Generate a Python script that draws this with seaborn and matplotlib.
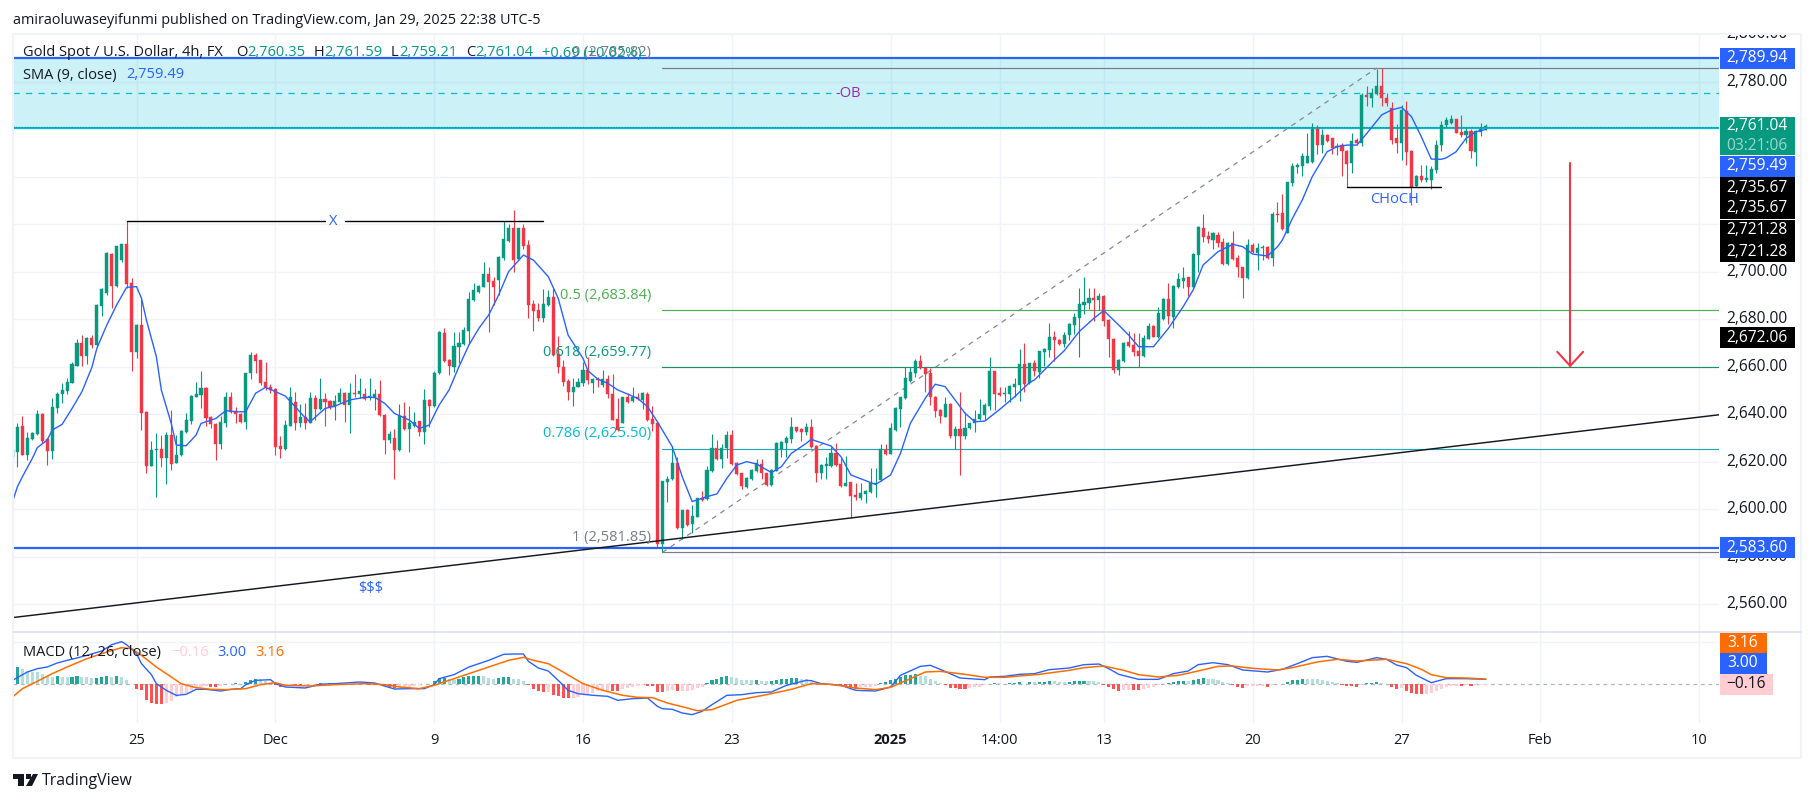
# gold 4h chart with SMA and MACD panes
import pandas as pd
import seaborn as sns
import matplotlib
matplotlib.use('Agg')
import matplotlib.pyplot as plt
from matplotlib.patches import Polygon, Rectangle

# candles (one entry per 4h bar)
opens = [
    2621.7,2623.8,2634.6,2622.4,2629,2631.2,2639.7,2629,2624.1,2642.3,
    2647.9,2649.5,2652.9,2660,2669.4,2664.1,2671.5,2668.7,2685.3,2690.5,
    2707,2693.6,2704.5,2711.3,2694.7,2665.9,2677.1,2640.6,2617.8,2624.5,
    2624.9,2621.3,2630.8,2619.2,2622.4,2632.2,2636.9,2647,2647.7,2650.7,
    2638.5,2635.4,2627.2,2636,2647,2641,2639.5,2636.4,2656.8,2664.5,
    2662.4,2653,2651.2,2650.1,2626.3,2624.9,2634.7,2644.8,2635.7,2638.3,
    2636,2646.3,2641.6,2646,2645.1,2642.5,2644.6,2648.6,2643.5,2648.4,
    2648.1,2648.1,2647,2646.3,2647.9,2639.2,2628.7,2629.4,2624.5,2638.8,
    2633.3,2634.7,2636.7,2632.2,2645.6,2643,2656.8,2673.6,2662.4,2659.6,
    2668,2669.1,2674.8,2687.7,2691.2,2693.3,2698.6,2695.7,2696.1,2705.2,
    2712.7,2717.9,2704.8,2717.9,2710.8,2686,2683.5,2680,2685.6,2689.1,
    2664.9,2659.3,2653.6,2649.1,2651.2,2652.9,2658.2,2652.9,2654.4,2651.9,
    2654.3,2648,2637.4,2636,2647,2645.3,2646.7,2645.6,2648.1,2637.6,
    2635.7,2584.8,2611,2612.2,2619.2,2591.5,2599.3,2593.4,2596.4,2604.2,
    2603.9,2615.8,2625.5,2620.7,2625.2,2630.8,2618.9,2614.7,2609,2612.2,
    2615.8,2618.6,2614.7,2609.8,2615.8,2624.8,2627.3,2629.3,2634.1,2633.3,
    2632,2634.1,2626.2,2614.7,2617.8,2617.9,2623.4,2618.5,2609.4,2611,
    2605.6,2604.2,2606,2607,2610.2,2611.9,2624.5,2622.8,2632.9,2641.6,
    2646.3,2653.5,2657.1,2662,2658.9,2656.8,2647,2641.4,2638.5,2643.9,
    2630.4,2633.2,2630.4,2633.6,2635.7,2637.4,2639.2,2643,2657.8,2648.6,
    2648.1,2648.1,2651.2,2651.9,2660.7,2652.6,2661,2657.5,2665.9,2666.6,
    2672.1,2670.8,2669.2,2672.8,2677.1,2680.1,2685.7,2686.3,2688.4,2687.7,
    2689.3,2679.2,2671.4,2658.2,2662.1,2670,2668.7,2666.3,2664.1,2671.2,
    2676.7,2672,2679.5,2688,2680.7,2693,2695.7,2697.2,2693,2706.6,
    2717.8,2714.6,2713,2715,2712.2,2702.8,2711.5,2705.2,2701.7,2696.8,
    2710.8,2707.6,2709.4,2709.8,2705.5,2723.9,2724.2,2715.7,2737.1,2743.5,
    2744.2,2745.5,2745.9,2759.5,2752.9,2757.1,2755.7,2752,2752.9,2750.5,
    2745.2,2755,2753.6,2774,2772.9,2774.4,2777.8,2772.6,2768.4,2755.7,
    2753.6,2767.4,2750.4,2735.7,2739.9,2738.2,2738.2,2742.4,2752.9,2761.4,
    2762,2763.7,2758.5,2757.1,2759,2750.1,2758.6,2760.35]
highs = [
    2625.2,2635.7,2638.8,2632.2,2632.2,2641.3,2640.2,2629.4,2646.3,2649.1,
    2652.6,2654.7,2661.7,2671.1,2672.9,2672.2,2672.9,2686,2692.6,2708,
    2707.3,2710.5,2711.4,2721,2696.8,2677.6,2688,2640.9,2628.3,2631.5,
    2630.8,2632.2,2641.3,2630.8,2632.9,2639.9,2647.7,2653.3,2657.8,2650.9,
    2638.8,2635.7,2638.8,2648.8,2648.8,2642.7,2639.9,2657.1,2665.9,2665.5,
    2662.4,2661.6,2652.2,2650.5,2630.4,2637.1,2650.9,2649.1,2643.9,2644.4,
    2649.1,2647.7,2654.7,2648.4,2645.5,2647.7,2650.5,2648.9,2652.6,2656.5,
    2654.7,2650.5,2654.7,2650.1,2654,2639.5,2632.6,2633.2,2643.7,2644.9,
    2643,2640.6,2636.7,2650.2,2645.8,2657.9,2674.6,2675.7,2662.7,2674.3,
    2674.3,2676.4,2691.2,2695,2694,2703.8,2701.7,2697.5,2706.2,2721,
    2719.7,2725.6,2717.9,2719.7,2712.9,2687.7,2686.6,2692.2,2691.9,2692.6,
    2672.5,2662.4,2654.3,2654.7,2654.7,2661.7,2663.5,2655,2655.4,2658.2,
    2656.1,2656.5,2646.3,2647,2648.6,2650.9,2648.6,2649.1,2648.8,2643,
    2636,2611.5,2613.6,2626.2,2621.4,2599.3,2599.5,2601.4,2604.4,2607.4,
    2617.8,2631.1,2628.7,2627,2632.6,2632.9,2619.3,2614.7,2613,2616.4,
    2620.6,2620.6,2615,2616.4,2627.9,2628.4,2630.4,2638.3,2634.3,2633.6,
    2636,2637.4,2626.5,2618.5,2621.7,2625.6,2627.6,2621.7,2622,2611,
    2610.5,2610.8,2607.7,2616.8,2616.8,2626.9,2626.9,2635.7,2642.5,2647,
    2659.6,2659.6,2662.7,2664.5,2659.2,2658.9,2647.2,2641.6,2646.7,2644.2,
    2634.6,2649.1,2640.6,2636,2641.4,2645.9,2644.2,2663.5,2657.9,2651.2,
    2650.9,2651.9,2654.7,2667,2669.4,2661.3,2662.4,2666.3,2667.3,2678.1,
    2674.8,2671.1,2674,2677.8,2682.3,2692.6,2697.2,2692.6,2692.6,2690.5,
    2689.8,2679.5,2671.7,2662.7,2670,2674.8,2673.6,2673.6,2673,2677.8,
    2677.1,2684.9,2688.4,2695,2694,2698.9,2701.4,2697.5,2707.6,2718.8,
    2723.7,2716.7,2716.4,2716.4,2713.6,2712.2,2716.9,2706.6,2701.7,2713.2,
    2711.5,2711.5,2710.8,2710.4,2724.9,2729.1,2732.3,2737.5,2745.2,2745.5,
    2749.7,2758.1,2762.3,2761.4,2759.5,2757.6,2756,2753.6,2753.6,2750.8,
    2758.1,2755.7,2774.7,2777.8,2776.8,2784.8,2785.2,2774.7,2771.2,2761.6,
    2769.8,2771.5,2750.8,2740.3,2744.5,2744.5,2744.1,2755,2763.2,2764.6,
    2765.6,2763.7,2765.6,2760,2759.5,2759.2,2762,2761.59]
lows = [
    2621,2617.5,2622.4,2620.3,2628.7,2630.8,2627.6,2618.2,2620.7,2640.2,
    2644.1,2647.9,2652.6,2659.9,2659.9,2660.7,2667.3,2668,2680.9,2689.8,
    2684.2,2693.3,2703.8,2692.6,2657.9,2663.1,2632.9,2615,2617.8,2604.8,
    2617.5,2610.2,2616.1,2619.2,2622.1,2631.8,2635.4,2646.7,2642.3,2634.6,
    2633.6,2620.3,2624.9,2634.3,2639.9,2635.7,2636,2633.3,2654.3,2656.8,
    2651.9,2649.8,2648.4,2622.4,2621.3,2624.5,2634.6,2632.9,2634.3,2633.3,
    2635.7,2637.1,2641.3,2634.6,2641.6,2637.1,2644.1,2636.1,2631.8,2647,
    2646.3,2645.6,2645.6,2641.3,2639,2622.8,2627.6,2612.3,2624.2,2632.9,
    2623.7,2634.3,2630.4,2627,2634.3,2642.7,2656.5,2661.4,2656.1,2657.5,
    2661,2668.7,2669.1,2687.4,2690.5,2693,2674.3,2685.6,2689.8,2704.5,
    2712.2,2699.6,2704.8,2709,2680,2674.8,2679,2678.6,2685.1,2664,
    2657,2651.5,2645.6,2643,2650.9,2651.5,2652.3,2648.4,2651.2,2650.9,
    2646.3,2637.1,2632.7,2635.7,2644.4,2644.9,2645.6,2641.6,2636.9,2632.7,
    2583.8,2581.7,2602.8,2611.9,2591.1,2586.9,2592.5,2589.7,2596.1,2603.2,
    2603.5,2615.4,2620.3,2617.1,2621,2618.2,2614,2608,2608.4,2611.9,
    2615.4,2612.2,2609.4,2609.4,2615.8,2621.4,2621.4,2627.6,2632.2,2628.4,
    2630.8,2625.2,2611.2,2612.2,2612.2,2617.5,2617.8,2609.1,2609.4,2595.7,
    2603.5,2603.5,2602.3,2606.5,2604.6,2611.6,2622.4,2622.8,2632.7,2634.3,
    2645.9,2653.3,2655.1,2658.5,2649.1,2643.5,2638.3,2636,2638.3,2629.4,
    2624.8,2614,2629,2633.2,2632.2,2637.1,2637.1,2641.4,2641.4,2647.4,
    2644.9,2644.9,2647,2645.3,2649.1,2652.3,2655.7,2654.7,2659.9,2663.8,
    2662.1,2668.6,2668,2670.8,2673.4,2663.5,2681.8,2683.7,2679,2683.5,
    2676.7,2663.5,2657.1,2656.1,2661.7,2668,2664.1,2659.3,2663.8,2671.1,
    2672,2671.7,2679.2,2677.6,2675.7,2692.6,2692.6,2689.3,2692.6,2699.6,
    2712.2,2711.8,2709,2710.1,2702.4,2702.4,2704.5,2697.5,2688.7,2696.5,
    2707.3,2700.3,2704.5,2704.8,2702.1,2720.6,2717.1,2715.7,2735.7,2741,
    2739.9,2745.5,2745.5,2749.1,2749.7,2754.3,2749.1,2748.7,2740,2735.1,
    2741.3,2752.9,2752.5,2769.4,2769.1,2774,2769.4,2769.4,2753.4,2749.7,
    2746.6,2744.5,2727.7,2735.4,2737.5,2737.5,2734.3,2741,2750.5,2760.6,
    2761.8,2757.8,2756.4,2753.6,2747.3,2744.1,2756.7,2759.21]
closes = [
    2624.5,2634.3,2622.4,2629.4,2631.5,2639.5,2628.3,2624.1,2642.5,2647.9,
    2649.8,2653,2660.7,2669.4,2664.1,2671.7,2668.7,2685.6,2692.3,2707.3,
    2693.6,2710.4,2711.2,2694.4,2665.9,2677.1,2640.2,2617.8,2624.5,2624.9,
    2621.3,2630.8,2618.6,2622.4,2632.6,2637.1,2647.2,2648.1,2650.7,2638.1,
    2635.3,2627.2,2636.3,2647,2640.4,2639.5,2636.4,2656.8,2664.5,2662.1,
    2652.6,2651.2,2649.8,2625.9,2624.9,2635,2647,2635.7,2638.3,2635.7,
    2646.3,2641.6,2646,2644.9,2642.5,2645.1,2648.4,2643.5,2648.4,2648,
    2649.3,2645.8,2647.3,2647.9,2639.2,2628.7,2631.2,2624.5,2639,2633.3,
    2635.7,2636.4,2632.2,2645.6,2643,2656.9,2674,2662,2659.9,2668.3,
    2669.4,2675,2688.1,2691.9,2693.7,2698.6,2695.4,2693.3,2705.9,2713.2,
    2717.9,2704.5,2717.9,2710.4,2685.6,2683,2680,2686,2689.1,2664.5,
    2659.3,2653.3,2649.1,2651.2,2653.1,2658.2,2654,2654.4,2654,2654.3,
    2648,2637.1,2633,2646.7,2644.9,2647,2645.8,2648.4,2637.1,2635.5,
    2584.8,2611.5,2612.2,2618.9,2591.5,2599.3,2592.9,2596.7,2604.2,2603.5,
    2616.1,2625.5,2620.6,2625.2,2630.8,2618.6,2614.4,2609.3,2612.6,2616.1,
    2618.9,2614.7,2609.8,2616.1,2627.6,2628,2629.7,2634.1,2632.5,2632,
    2634.3,2625.6,2614.7,2618.2,2618.5,2623.4,2618.2,2609.4,2610.8,2605.1,
    2604.9,2606.5,2607.3,2610.5,2610.8,2624.8,2622.8,2633.6,2642.1,2646.7,
    2654.7,2657.5,2662,2658.9,2656.5,2647,2641.1,2638.8,2643.9,2630.4,
    2633.2,2630.4,2633.6,2635.7,2637.4,2639.5,2643.5,2657.8,2648.1,2647.7,
    2648.6,2651.5,2652.3,2660.7,2652.3,2661,2657.9,2666.2,2667,2672.1,
    2670.8,2669.2,2673.1,2677.6,2680.4,2686,2687,2688.6,2687.7,2689.5,
    2679,2671.1,2658.2,2662.4,2669.7,2668.3,2665.8,2664.1,2671.5,2676.7,
    2672.2,2682.3,2688,2681,2693.7,2696.4,2696.8,2693,2707,2718.3,
    2714.3,2713.4,2716,2711.5,2702.8,2711.5,2704.8,2701.4,2696.8,2710.8,
    2708,2709.7,2709.8,2705.5,2723.9,2723.5,2717.6,2737.2,2744.1,2744.5,
    2748.3,2748.3,2759.5,2752.9,2757.1,2754.8,2751.5,2752.5,2750.5,2745,
    2754.8,2753.6,2774,2773.3,2774.7,2777.8,2772.6,2770.5,2755,2753.6,
    2767.7,2750.1,2735.4,2739.9,2738.2,2739.2,2742.7,2752.9,2761.4,2763.5,
    2763.7,2758.1,2757.1,2759,2750.5,2759,2759.5,2761.04]

# SMA read at a subset of bars
sma_bars = [0,1,2,4,5,7,8,10,12,14,16,17,19,21,23,25,26,27,29,30,32,33,35,37,38,41,43,45,47,49,51,53,55,57,59,
            60,63,65,68,71,73,75,77,80,82,84,86,88,90,92,94,96,98,100,103,105,108,110,112,115,116,118,120,122,
            126,128,130,132,133,135,137,140,142,144,146,148,150,153,155,157,160,161,165,167,169,174,177,179,181,
            184,186,188,190,192,194,196,199,202,205,206,210,212,215,218,220,223,225,227,230,233,236,238,240,243,
            246,248,250,253,255,256,258,260,262,265,267,269,271,273,276,278,280,282,284,286,288,289,291,293,295,297]
sma_vals = [2602.7,2609.1,2613.3,2621,2625.5,2628.7,2632.9,2635.3,2642,2649.1,2659.3,2667.3,2677.1,2685.6,2693,2693.3,
            2688.4,2679.2,2663.8,2649.8,2635.7,2626.6,2626.3,2630.8,2635.7,2637.8,2641.1,2640.6,2640.6,2648.4,2650.9,
            2649.1,2647.2,2642.7,2638.1,2636.4,2642,2643,2645.6,2646.7,2646.7,2644.2,2639.9,2637.1,2633.6,2635,2643.4,
            2649.8,2659.6,2668.7,2675.7,2681.4,2689.8,2699.6,2706.6,2704.5,2697.5,2688.4,2672.9,2663.1,2657.9,2654.3,
            2652.6,2649.8,2646.3,2642.8,2636.4,2629.4,2625.9,2613.3,2602.8,2604.9,2606,2612.6,2618.2,2619.6,2618.6,
            2615,2617.5,2623.1,2627.3,2629,2626.2,2621.7,2614,2610,2614,2623.1,2635.8,2646.3,2652.2,2651.2,2645.6,2640,
            2636.4,2636.7,2641.6,2646.9,2652.9,2654,2662.4,2666.3,2674.3,2680,2683.2,2677.1,2672.9,2668,2668,2675.7,
            2684.9,2691.9,2702.4,2708,2711.1,2710.1,2707,2706.2,2710.1,2713,2722,2729.8,2739.6,2750.1,2752.2,2752.9,
            2752.9,2757.8,2765.6,2767.7,2768.8,2764.9,2756.4,2747,2746.9,2747.5,2750.1,2755.7,2758.5,2759.49]

# MACD pane
hist_vals = [
    10,10.4,9,8,7.4,7.2,6,4.8,4.4,5,4.6,4.4,4.5,5,4.4,4.2,3.8,3.9,4.4,5,
    4.6,4.7,4.5,2.6,-0.1,-2.6,-3.6,-9.6,-11,-11.6,-11.7,-11,-10,-7.6,-6.6,-5.2,-3.6,-2.2,-1.6,-1.2,
    -1.6,-1.8,-1.2,0.2,0.25,0.6,0.2,1.4,2.8,3.2,3,1.8,1,-0.6,-1.6,-1.2,-0.2,-0.25,-1,-0.6,
    0.2,0.25,0.8,0.6,0.65,0.6,0.4,0.45,0.4,0.42,0.4,0.2,-0.2,-0.25,-0.6,-1.2,-1.6,-2,-1.6,-1.5,
    -1.4,-1.3,-0.6,0.2,0.4,1.8,3.8,3.9,3.4,2.8,3.4,4.6,5,5.1,5.2,5,3.8,3.4,4,4.4,
    4.5,3.2,3.1,1.8,-0.6,-3,-4.2,-4.6,-4.5,-6.2,-7,-8,-8.2,-8.1,-7.6,-6,-5.6,-5,-4.2,-4.15,
    -4,-4.1,-4.2,-2.6,-2.2,-1.6,-1,-0.2,-1,-1.1,-4.6,-4.7,-4,-3.6,-4,-3.9,-3.8,-3.6,-2.2,-1.6,
    0.8,2.6,3,4.4,5,4.4,3.8,2.6,2.5,2.4,2.6,1.8,1.7,2,2.6,3.2,3.25,3.8,3.85,3,
    2.9,1.4,0.4,0.35,0.2,0.1,-0.1,-0.6,-1,-1.6,-2.6,-1.8,-1.6,-1.5,-1.2,0.8,1.4,2.6,3.4,4.4,
    5.4,5.8,6.2,4.8,4.7,3.2,1.8,0.8,-0.2,-2,-2.2,-2.6,-2.7,-2.2,-1.8,-1.6,-0.6,0.4,0.6,0.5,
    0.4,0.5,0.6,1.4,0.4,1.4,1.3,1.4,1.5,2,1.9,1.5,1.4,1.6,1.9,2,2.1,2,1.9,1.4,
    -0.2,-1.6,-2.6,-4,-3.6,-3.5,-3.6,-3.7,-2.6,-2,-1.9,-0.2,0.4,0.5,1.4,2,2.1,2,2.8,3.2,
    3.8,3.2,3.1,2.6,1.2,0.6,-0.2,-1.6,-2,-1,-0.95,-0.9,-0.85,-1.6,-0.6,-0.1,0.1,1.4,2.6,2.7,
    3.2,3.1,3,2.9,2.6,2,1.4,0.8,-0.2,-1.2,-1.3,-1.4,-0.2,0.8,0.9,1.4,0.6,0.4,-1.6,-2.6,
    -2,-4,-5,-5.6,-5.7,-5.6,-5.2,-4,-2.6,-1.4,-1,-0.9,-1,-0.6,-1,-0.6,-0.4,-0.16]
macd_bars = [0,3,5,7,9,11,13,15,18,20,22,23,25,26,28,29,31,33,35,37,39,42,44,46,47,49,52,53,55,59,62,65,70,73,75,77,80,83,85,86,
             89,92,96,99,101,103,104,106,108,110,112,114,117,120,122,125,128,130,131,133,135,137,139,141,144,147,150,153,156,160,
             161,163,167,170,174,177,179,183,185,187,191,196,197,200,203,206,209,213,216,219,221,223,227,231,234,237,239,242,245,248,
             253,256,259,262,265,269,271,275,277,279,281,283,286,289,293,297]
macd_vals = [2.4,7.4,9.4,10.4,12.8,14.4,15.8,17.4,20,23.8,25.6,23.8,18.4,12.4,5.8,0.4,-3.6,-6.6,-6,-3,-3,-4,-3,-2.6,-0.2,2.4,2.8,0.4,-1.6,-2.2,
             0,0.4,1.4,0.8,-1,-2.8,-2.6,-2.6,-0.2,3.4,5.8,10.4,14.4,18,18.2,18.2,13.8,9.8,8,2.4,-3.6,-5.6,-6.6,-7.2,-9.6,-8.6,-8.2,-13.2,-14.6,-15,
             -17.2,-18.2,-16.2,-12.2,-6.6,-6.2,-5,-4.6,-0.6,2.4,2.2,0.4,-0.6,-3.6,-4,-1.6,5.4,10.8,11.4,9,3.8,2.8,4.4,4.8,6,6.4,8.8,9.8,11.8,12.2,
             9.4,6,3,3,6.4,8,11.8,13,11.8,8.6,7.4,9,12.4,16,16.8,13.8,13.2,16,15,11.6,10,5.4,1,3.4,3.4,3.0]
signal_bars = [0,2,5,8,11,15,19,22,24,26,29,32,34,37,40,43,47,50,53,55,60,65,71,75,78,82,85,88,92,96,100,103,105,108,111,115,119,123,126,129,
               132,136,138,141,146,152,157,161,165,170,174,177,181,184,187,192,196,200,203,207,213,216,220,224,227,231,235,239,243,246,250,255,258,263,
               267,271,277,281,284,286,289,293,297]
signal_vals = [-7.6,-2.6,1.8,6.4,10.4,15.4,19.4,22,21.4,17.4,10.4,4.4,0.4,-2,-3,-3.2,-2.6,-0.2,1,-0.6,-1,-0.2,0.4,-0.2,-1.6,-2.6,-0.6,2.4,6.4,10.4,
               14.4,16.2,14.4,12.4,7.4,0.4,-3.6,-6.6,-7.8,-8,-11.2,-14.2,-15.8,-15.2,-9.6,-6.2,-3,0.4,0,-2.2,-3.2,-1.8,3.4,7.4,7.8,6,4.2,4.2,5,6,
               8.4,10,11,8.4,5.8,4.4,5.4,8,10.8,11,9.6,8.6,10,13.4,15,14,15,12.4,9,5.8,4,3.8,3.16]

# levels and drawings
y_ticks = [2560,2580,2600,2620,2640,2660,2680,2700,2720,2740,2760,2780,2800]
hidden_ticks = [2720,2740,2760]  # sit under the price tags
date_bars = [25,53,85,115,145,177,199,220,250,280,308,340]
date_labels = ['25','Dec','9','16','23','2025','14:00','13','20','27','Feb','10']
fib_levels = [0,0.5,0.618,0.786,1]
fib_prices = [2785.82,2683.84,2659.77,2625.50,2581.85]
fib_colors = ['#787B86','#4CAF50','#1B8F60','#26A7B5','#787B86']
fib_text_colors = ['#787B86','#4CAF50','#089981','#00BCD4','#787B86']
ob_top, ob_bottom, ob_mid, last_price = 2789.94, 2760.5, 2775.2, 2761.04
support = 2583.60
trend_x, trend_y = [0,344], [2554.4,2639.8]
read_offset = 0.46  # candles and SMA were read about this much low

GREEN, RED, BLUE, ORANGE = '#089981', '#F23645', '#2962FF', '#FF6D00'
GRID = '#F0F3FA'
W, H = 1814, 802
SCALE_FONT = 11.2

sns.set_theme(style='white')
plt.rcParams['font.family'] = ['Open Sans', 'DejaVu Sans']

df = pd.DataFrame({'open': opens, 'high': highs, 'low': lows, 'close': closes, 'hist': hist_vals})
df[['open', 'high', 'low', 'close']] += read_offset
df['bar'] = df.index
df['up'] = df['close'] >= df['open']
candle_col = df['up'].map({True: GREEN, False: RED})

fig = plt.figure(figsize=(W / 100, H / 100), dpi=100, facecolor='white')


def fx(x):
    return x / W


def fy(y):
    return 1 - y / H


def pane(x0, y0, x1, y1):
    return fig.add_axes([fx(x0), fy(y1), fx(x1) - fx(x0), fy(y0) - fy(y1)])


ax = pane(13, 34, 1719, 632)
ax2 = pane(13, 632, 1719, 723)
ax_scale = pane(1719, 34, 1801, 632)

for a in (ax, ax2):
    a.set_xlim(0.1, 344)
    a.set_xticks(date_bars)
    a.tick_params(length=0, labelbottom=False, labelleft=False)
    a.grid(True, color=GRID, linewidth=1)
    a.set_axisbelow(True)
    a.set_facecolor('none')
    sns.despine(ax=a, left=True, bottom=True)

ax.set_ylim(2548.34, 2800.13)
ax.set_yticks(y_ticks[:-1])
ax2.set_ylim(-23.2, 31.4)
ax2.set_yticks([25.5])

# order block zone
ax.axhspan(ob_bottom, ob_top, color='#00BCD4', alpha=0.2, linewidth=0, zorder=1)
ax.axhline(ob_top, color=BLUE, linewidth=1.6, zorder=2)
ax.axhline(ob_bottom, color='#00BCD4', linewidth=1.5, zorder=2)
ax.axhline(last_price, color=GREEN, linewidth=0.8, ls=(0, (1, 1.5)), zorder=2)
ax.plot([0.1, 165], [ob_mid, ob_mid], color='#00BCD4', linewidth=0.9, ls=(0, (5, 5)), zorder=2)
ax.plot([172, 344], [ob_mid, ob_mid], color='#00BCD4', linewidth=0.9, ls=(0, (5, 5)), zorder=2)
ax.text(168.5, ob_mid, '-OB', color='#9C27B0', fontsize=10.5, ha='center', va='center', zorder=6)
ax.axhline(support, color=BLUE, linewidth=1.6, zorder=2)

# fib retracement
for lvl, price, c, tc in zip(fib_levels, fib_prices, fib_colors, fib_text_colors):
    ax.plot([131, 344], [price, price], color=c, linewidth=0.85, zorder=2)
    ax.annotate(f'{lvl} ({price:,.2f})', xy=(128.7, price), xytext=(0, 15), textcoords='offset pixels',
                color=tc, fontsize=10.5, ha='right', va='center', zorder=6)
ax.plot([131, 275], [fib_prices[4], fib_prices[0]], color='#868993', linewidth=0.9, ls=(0, (4, 4)), zorder=2)

# candles
ax.vlines(df['bar'], df['low'], df['high'], colors=candle_col, linewidth=0.8, zorder=3)
ax.bar(df['bar'], (df['close'] - df['open']).abs(), bottom=df[['open', 'close']].min(axis=1), width=0.62,
       color=candle_col, edgecolor=candle_col, linewidth=0.3, zorder=4)

# SMA
sma_plot = [v + read_offset for v in sma_vals]
sns.lineplot(x=sma_bars, y=sma_plot, ax=ax, color=BLUE, linewidth=1.0, zorder=5, legend=False, errorbar=None)

# trend line, structure marks and target arrow
ax.plot(trend_x, trend_y, color='#131722', linewidth=1.05, zorder=5)
ax.plot([23, 63], [2721.28, 2721.28], color='black', linewidth=1.0, zorder=5)
ax.plot([67, 107], [2721.28, 2721.28], color='black', linewidth=1.0, zorder=5)
ax.text(64.6, 2721.28, 'X', color=BLUE, fontsize=10.5, ha='center', va='center', zorder=6)
ax.plot([269, 288], [2735.67, 2735.67], color='black', linewidth=1.0, zorder=5)
ax.text(278.5, 2730.6, 'CHoCH', color=BLUE, fontsize=10.5, ha='center', va='center', zorder=6)
ax.text(72.3, 2566.8, '$$$', color=BLUE, fontsize=10.5, ha='center', va='center', zorder=6)
ax.plot([314, 314], [2745.9, 2660.4], color=RED, linewidth=1.5, zorder=6)
ax.plot([311.4, 314, 316.6], [2666.3, 2660.4, 2666.3], color=RED, linewidth=1.5, zorder=6)

# MACD pane
prev = df['hist'].shift(1).fillna(df['hist'])
hist_col = []
for h, p in zip(df['hist'], prev):
    if h >= 0:
        hist_col.append('#26A69A' if h >= p else '#B2DFDB')
    else:
        hist_col.append('#FF5252' if h < p else '#FFCDD2')
ax2.axhline(0, color='#B2B5BE', linewidth=0.9, ls=(0, (3, 3)), zorder=1)
ax2.bar(df['bar'], df['hist'], width=0.62, color=hist_col, linewidth=0, zorder=2)
sns.lineplot(x=macd_bars, y=macd_vals, ax=ax2, color=BLUE, linewidth=1.0, zorder=3, legend=False, errorbar=None)
sns.lineplot(x=signal_bars, y=signal_vals, ax=ax2, color=ORANGE, linewidth=1.1, zorder=4, legend=False, errorbar=None)

# price scale
ax_scale.set_ylim(ax.get_ylim())
ax_scale.set_xlim(0, 1)
ax_scale.axis('off')
for t in y_ticks:
    if t not in hidden_ticks:
        ax_scale.text(0.46, t, f'{t:,.2f}', color='#131722', fontsize=SCALE_FONT, ha='center', va='center', clip_on=True)


def label_box(y0, y1, text, bg, fg='white', x1=1795, cx=1757):
    fig.patches.append(Rectangle((fx(1720), fy(y1)), fx(x1) - fx(1720), fy(y0) - fy(y1), transform=fig.transFigure,
                                 facecolor=bg, edgecolor='none', figure=fig))
    fig.text(fx(cx), fy((y0 + y1) / 2), text, color=fg, fontsize=SCALE_FONT, ha='center', va='center')


label_box(48, 69, '2,789.94', BLUE)
label_box(117, 136, '2,761.04', GREEN)
label_box(136, 155, '03:21:06', GREEN, '#9CD6CB')
label_box(155.5, 177, '2,759.49', BLUE)
label_box(177, 198, '2,735.67', 'black')
label_box(198, 219, '2,735.67', 'black')
label_box(220, 241, '2,721.28', 'black')
label_box(241, 262, '2,721.28', 'black')
label_box(327, 348, '2,672.06', 'black')
label_box(537, 558, '2,583.60', BLUE)
label_box(633, 653, '3.16', ORANGE, x1=1767, cx=1743)
label_box(653, 673.5, '3.00', BLUE, x1=1767, cx=1743)
label_box(674, 695, '\u22120.16', '#FFCDD2', '#131722', x1=1773, cx=1746)

# date labels under the panes
for b, lab in zip(date_bars, date_labels):
    fig.text(fx(12.5 + 4.961 * b), fy(740), lab, color='#131722', fontsize=10.5, ha='center', va='center',
             fontweight='bold' if lab == '2025' else 'normal')

# pane frame and separators
fig.patches.append(Rectangle((fx(13), fy(758)), fx(1801) - fx(13), fy(34) - fy(758), transform=fig.transFigure,
                             facecolor='none', edgecolor=GRID, linewidth=1.5, figure=fig))
fig.add_artist(plt.Line2D([fx(13), fx(1801)], [fy(632), fy(632)], color='#E0E3EB', linewidth=1.3))

# header texts
fig.text(fx(13), fy(20), 'amiraoluwaseyifunmi published on TradingView.com, Jan 29, 2025 22:38 UTC-5',
         color='#131722', fontsize=10.4, va='center')


def header(x, y, text, color):
    fig.text(fx(x), fy(y), text, color=color, fontsize=10.5, va='center')


header(23, 53, 'Gold Spot / U.S. Dollar, 4h, FX', '#131722')
for x_l, lab, x_v, val in [(236, 'O', 247, '2,760.35'), (314, 'H', 324, '2,761.59'),
                           (391, 'L', 399, '2,759.21'), (466, 'C', 475.5, '2,761.04')]:
    header(x_l, 53, lab, '#131722')
    header(x_v, 53, val, GREEN)
header(542, 53, '+0.69 (+0.02%)', GREEN)
header(23, 75, 'SMA (9, close)', '#131722')
header(126.5, 75, '2,759.49', BLUE)
header(23, 652.7, 'MACD (12, 26, close)', '#131722')
header(171.7, 652.7, '\u22120.16', '#FFCDD2')
header(217, 652.7, '3.00', BLUE)
header(255.7, 652.7, '3.16', ORANGE)

# TradingView mark
for pts in ([(13, 774), (24, 774), (24, 786), (18, 786), (18, 779), (13, 779)],
            [(33, 774), (38, 774), (32, 786), (26, 786)]):
    fig.patches.append(Polygon([(fx(a), fy(b)) for a, b in pts], transform=fig.transFigure,
                               facecolor='#131722', edgecolor='none', figure=fig))
fig.patches.append(Rectangle((fx(26), fy(779)), fx(4.5), fy(0) - fy(5), transform=fig.transFigure,
                             facecolor='#131722', edgecolor='none', figure=fig))
fig.text(fx(42), fy(781), 'TradingView', color='#131722', fontsize=11.4, va='center')

fig.savefig('out.png', dpi=100)
